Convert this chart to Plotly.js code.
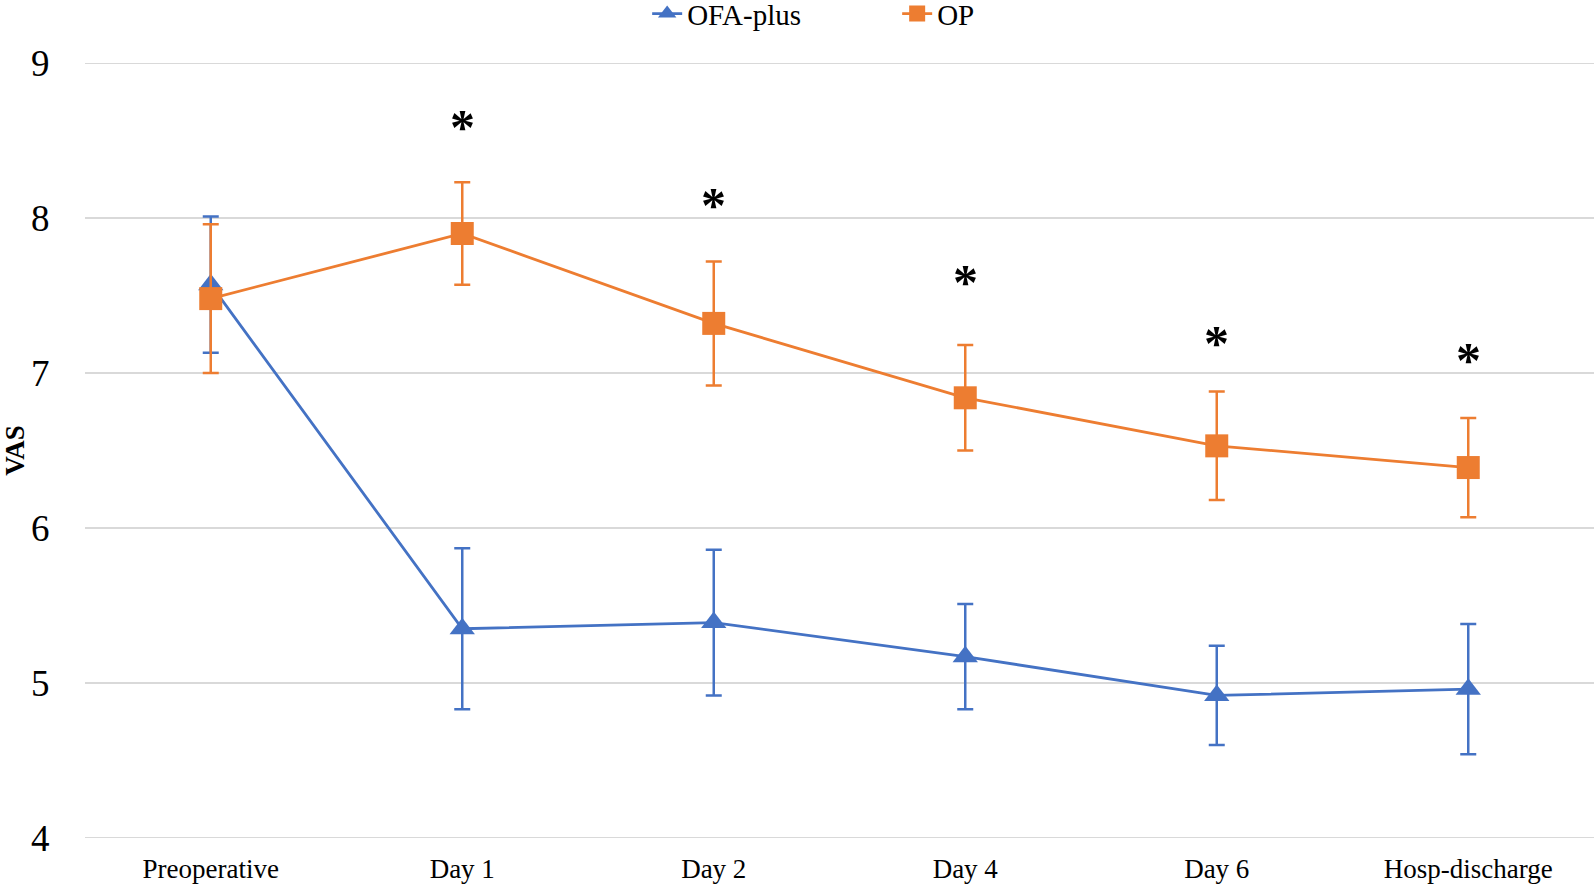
<!DOCTYPE html>
<html>
<head>
<meta charset="utf-8">
<script src="https://cdn.plot.ly/plotly-3.0.1.min.js"></script>
<style>html,body{margin:0;padding:0;background:#fff;}#chart{width:1594px;height:886px;}</style>
</head>
<body>
<div id="chart"></div>
<script>
const categories = ['Preoperative', 'Day 1', 'Day 2', 'Day 4', 'Day 6', 'Hosp-discharge'];
const ofaPlus = [7.57, 5.35, 5.39, 5.17, 4.92, 4.96];
const ofaPlusErr = [0.44, 0.52, 0.47, 0.34, 0.32, 0.42];
const op = [7.48, 7.90, 7.32, 6.84, 6.53, 6.39];
const opErr = [0.48, 0.33, 0.40, 0.34, 0.35, 0.32];
const sigCategories = ['Day 1', 'Day 2', 'Day 4', 'Day 6', 'Hosp-discharge'];
const sigY = [8.61, 8.11, 7.61, 7.22, 7.11];
const yTicks = [4, 5, 6, 7, 8, 9];
const yRange = [4, 9];

const serif = '"Liberation Serif", "Times New Roman", serif';
const blue = '#4472C4';
const orange = '#ED7D31';
const gridColor = '#d9d9d9';

const traces = [
  {
    name: 'OFA-plus', x: categories, y: ofaPlus, type: 'scatter', mode: 'lines+markers',
    line: {color: blue, width: 2.8},
    marker: {symbol: 'triangle-up', size: 22, color: blue},
    error_y: {type: 'data', array: ofaPlusErr, visible: true, color: blue, thickness: 2.5, width: 8}
  },
  {
    name: 'OP', x: categories, y: op, type: 'scatter', mode: 'lines+markers',
    line: {color: orange, width: 2.8},
    marker: {symbol: 'square', size: 23, color: orange},
    error_y: {type: 'data', array: opErr, visible: true, color: orange, thickness: 2.5, width: 8}
  }
];

const annotations = sigCategories.map((c, i) => ({
  x: c, y: sigY[i], xref: 'x', yref: 'y', text: '<b>*</b>', showarrow: false,
  font: {family: serif, size: 50, color: '#000'}, yanchor: 'middle', yshift: -4
}));

// edge gridlines (Plotly omits grid lines lying exactly on the range ends)
const shapes = [yRange[0], yRange[1]].map(v => ({
  type: 'line', xref: 'paper', x0: 0, x1: 1, yref: 'y', y0: v, y1: v,
  line: {color: gridColor, width: 2}, layer: 'below'
}));

const layout = {
  width: 1594, height: 886,
  margin: {l: 85, r: 0, t: 63, b: 48},
  paper_bgcolor: '#fff', plot_bgcolor: '#fff',
  font: {family: serif, color: '#000'},
  showlegend: true,
  legend: {
    orientation: 'h', xref: 'container', x: 0.406, yref: 'container', y: 0.9845,
    xanchor: 'left', yanchor: 'middle', font: {family: serif, size: 29, color: '#000'},
    entrywidth: 205, entrywidthmode: 'pixels', bgcolor: 'rgba(0,0,0,0)'
  },
  xaxis: {
    type: 'category', range: [-0.5, 5.5], showgrid: false, zeroline: false,
    showline: false, ticks: 'outside', ticklen: 7, tickcolor: 'rgba(0,0,0,0)',
    tickfont: {family: serif, size: 27, color: '#000'}, fixedrange: true, automargin: false
  },
  yaxis: {
    range: yRange, tickvals: yTicks, ticktext: yTicks.map(String),
    showgrid: true, gridcolor: gridColor, gridwidth: 2, zeroline: false, showline: false,
    ticks: 'outside', ticklen: 27, tickcolor: 'rgba(0,0,0,0)',
    tickfont: {family: serif, size: 37, color: '#000'},
    title: {text: '<b>VAS</b>', font: {family: serif, size: 27, color: '#000'}, standoff: 0},
    fixedrange: true, automargin: false
  },
  shapes: shapes,
  annotations: annotations
};

Plotly.newPlot('chart', traces, layout, {displayModeBar: false, staticPlot: true});
</script>
</body>
</html>
